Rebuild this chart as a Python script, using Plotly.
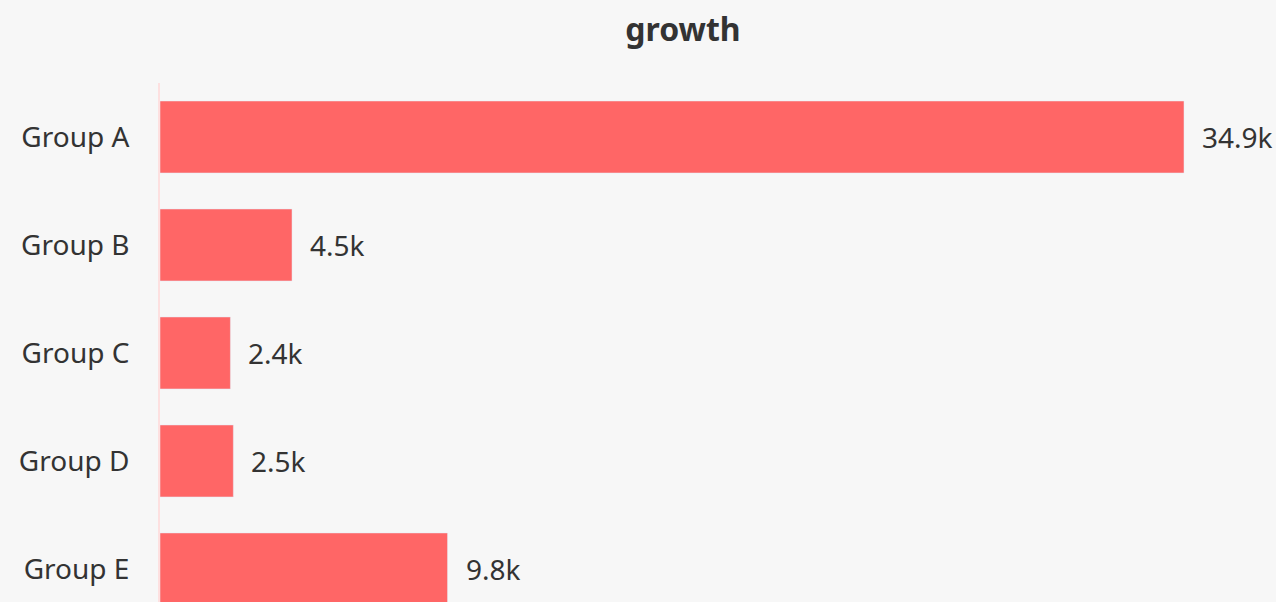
import plotly.graph_objects as go

categories = ["Group A", "Group B", "Group C", "Group D", "Group E"]
values = [34900, 4500, 2400, 2500, 9800]
labels = ["34.9k", "4.5k", "2.4k", "2.5k", "9.8k"]

fig = go.Figure(go.Bar(
    y=categories, x=values, orientation="h",
    marker=dict(color="#ff6666"),
    hoverinfo="x+y",
))

for c, v, t in zip(categories, values, labels):
    fig.add_annotation(x=v, y=c, text=t, showarrow=False, xanchor="left",
                       xshift=16, font=dict(size=28, color="#333333", family="Noto Sans"))

fig.update_layout(
    width=1276, height=602,
    margin=dict(l=160, r=70, t=83, b=0),
    paper_bgcolor="#f7f7f7", plot_bgcolor="#f7f7f7",
    title=dict(text="<b>growth</b>", x=0.5, xref="paper", y=1 - 30 / 602, yref="container",
               yanchor="middle",
               font=dict(size=32, color="#333333", family="Noto Sans")),
    font=dict(family="Noto Sans", size=28, color="#333333"),
    bargap=1/3,
    showlegend=False,
    xaxis=dict(range=[0, 35650], visible=False, showgrid=False, zeroline=False),
    yaxis=dict(range=[4.306, -0.5], showline=True, linecolor="#fde0e0", linewidth=2,
               showgrid=False, zeroline=False, ticks="", ticklabelstandoff=23,
               tickfont=dict(size=28, color="#333333")),
)

fig.write_html("out.html")
